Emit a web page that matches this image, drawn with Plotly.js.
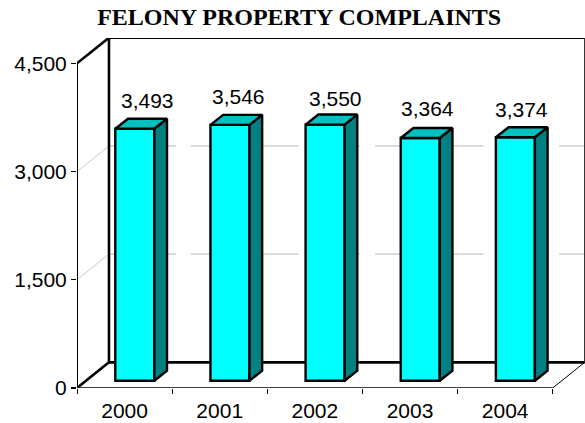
<!DOCTYPE html>
<html><head><meta charset="utf-8">
<script src="https://cdn.plot.ly/plotly-3.0.1.min.js"></script>
<style>html,body{margin:0;padding:0;background:#fff}</style></head>
<body><div id="chart" style="width:585px;height:423px"></div>
<script>
const categories = ["2000","2001","2002","2003","2004"];
const complaints = [3493,3546,3550,3364,3374];
const yTicks = [0,1500,3000,4500];
const chartTitle = "FELONY PROPERTY COMPLAINTS";

// plot geometry
const W=585,H=423,L=76.7,B=35.4,T=38.3;
const catPx=95.2, valPx=324/4500;
const xRange=[-0.5,-0.5+(W-L)/catPx];
const yRange=[0,(H-B-T)/valPx];
// wall depth in data units
const DX=32/catPx, DY=25.6/valPx;
const yMax=4500;
const x0=-0.5, x1=4.5;
const faceX=0.32, backX=0.717, faceY=0.285, backY=0.675, barW=0.41;
const labelNudgeX=[0,-4,-2,-5,-7], labelNudgeY=[5,5,3,6,4];
const X=(c,d)=>c+d*DX, Y=(v,d)=>v+d*DY;

const seg=(xa,ya,xb,yb,color,width,dash)=>({type:'line',layer:'below',xref:'x',yref:'y',x0:xa,y0:ya,x1:xb,y1:yb,
  line:{color,width,dash:dash||'solid'}});
const gridDash="67px,15px,107.5px,15px,46px,15.7px,107.7px,76.3px,30px";
const shapes=[];
yTicks.filter(v=>v>0&&v<yMax).forEach(v=>{
  shapes.push(seg(x0,v,X(x0,1),Y(v,1),'#c8c8c8',1));
  shapes.push(seg(X(x0,1),Y(v,1),X(x1,1),Y(v,1),'#d4d4d4',1.6,gridDash));
});
const K='#000';
shapes.push(seg(X(x0,1),Y(yMax,1),X(x0,1),Y(0,1),K,2.6));
shapes.push(seg(X(x0,1),Y(yMax,1),X(x1,1),Y(yMax,1),K,2.6));
shapes.push(seg(X(x0,1),Y(0,1),X(x1,1),Y(0,1),K,2.6));
shapes.push(seg(X(x1,1),Y(yMax,1),X(x1,1),Y(0,1),'#222',1.2));
shapes.push(seg(x0,0,x0,yMax,K,2));
shapes.push(seg(x0,yMax,X(x0,1),Y(yMax,1),K,2.6));
shapes.push(seg(x0,0,X(x0,1),Y(0,1),K,2.6));
shapes.push(seg(x0,0,x1,0,K,1.5));
shapes.push(seg(x1,0,X(x1,1),Y(0,1),K,1));

const traces=[];
const xs=categories.map((_,i)=>i);
const edge='#000', edgeW=2.4;
traces.push({type:'bar',x:xs.map(c=>X(c,faceX)),y:complaints,base:xs.map(()=>Y(0,faceY)),width:barW,
  marker:{color:'#00ffff',line:{color:edge,width:edgeW}},hoverinfo:'skip',showlegend:false});
xs.forEach(c=>{
  const v=complaints[c];
  const l=X(c,faceX)-barW/2, r=X(c,faceX)+barW/2, dx=(backX-faceX)*DX, dy=(backY-faceY)*DY;
  const b=Y(0,faceY), t=Y(v,faceY);
  traces.push({type:'scatter',mode:'lines',x:[r,r+dx,r+dx,r,r],y:[b,b+dy,t+dy,t,b],fill:'toself',fillcolor:'#008080',
    line:{color:edge,width:edgeW,shape:'linear'},hoverinfo:'skip',showlegend:false,cliponaxis:false});
  traces.push({type:'scatter',mode:'lines',x:[l,r,r+dx,l+dx,l],y:[t,t,t+dy,t+dy,t],fill:'toself',fillcolor:'#00c0c0',
    line:{color:edge,width:edgeW},hoverinfo:'skip',showlegend:false,cliponaxis:false});
});
const font={family:'"Liberation Sans",Arial,sans-serif',size:21,color:'#000'};
const annotations=xs.map(c=>({xref:'x',yref:'y',x:X(c,backX),
  y:Y(complaints[c],backY),text:complaints[c].toLocaleString('en-US'),showarrow:false,yanchor:'bottom',xanchor:'center',
  xshift:labelNudgeX[c],yshift:labelNudgeY[c],font}));
const layout={width:W,height:H,margin:{l:L,r:0,t:T,b:B,pad:0},paper_bgcolor:'#fff',plot_bgcolor:'#fff',showlegend:false,
  title:{text:chartTitle,xref:'paper',yref:'container',x:(299-L)/(W-L),xanchor:'center',y:1-17/H,yanchor:'middle',
    font:{family:'"Liberation Serif","Times New Roman",serif',size:24,color:'#000',weight:700}},
  xaxis:{range:xRange,tickmode:'array',tickvals:xs,ticktext:categories,ticks:'',showgrid:false,zeroline:false,showline:false,
    tickfont:font,ticklabelstandoff:8,
    minor:{tickmode:'array',tickvals:[-0.5,0.5,1.5,2.5,3.5,4.5],ticks:'outside',ticklen:5,tickwidth:1,tickcolor:'#000',showgrid:false}},
  yaxis:{range:yRange,tickmode:'array',tickvals:yTicks,tickformat:',d',ticks:'outside',ticklen:5,tickwidth:1.2,tickcolor:'#000',
    showgrid:false,zeroline:false,showline:false,tickfont:font},
  bargap:0,shapes,annotations};
Plotly.newPlot('chart',traces,layout,{displayModeBar:false,staticPlot:true});
</script></body></html>
